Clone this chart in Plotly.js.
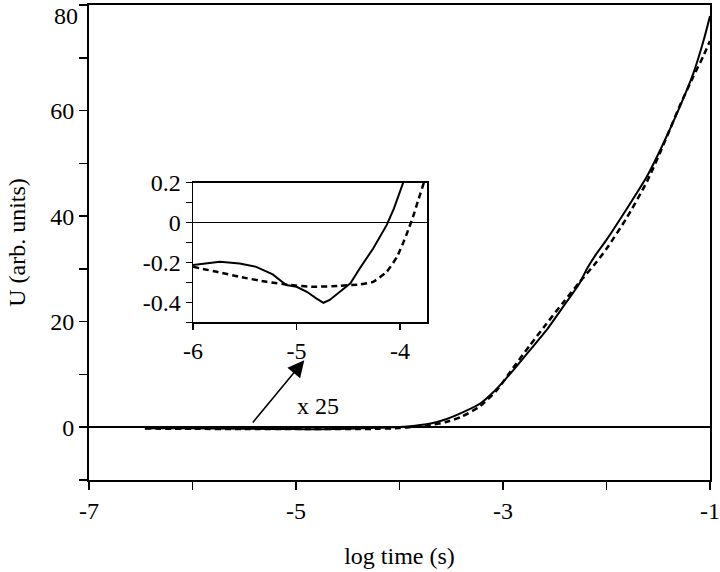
<!DOCTYPE html>
<html>
<head>
<meta charset="utf-8">
<script src="https://cdn.plot.ly/plotly-3.0.1.min.js"></script>
<style>html,body{margin:0;padding:0;background:#fff;}#chart{width:720px;height:572px;}</style>
</head>
<body>
<div id="chart"></div>
<script>
// Main chart data (log time in s, U in arb. units)
const mainSolidX = [-6.46, -6.0, -5.5, -5.0, -4.75, -4.5, -4.2, -4.0, -3.85, -3.7, -3.55, -3.38, -3.22, -3.06, -2.90, -2.74, -2.58, -2.42, -2.26, -2.19, -2.10, -2.0, -1.81, -1.61, -1.45, -1.29, -1.16, -1.06, -1.0];
const mainSolidY = [-0.2, -0.2, -0.3, -0.35, -0.4, -0.3, -0.1, 0.05, 0.3, 0.7, 1.5, 2.9, 4.5, 7.3, 10.8, 14.6, 18.4, 22.8, 27.3, 30.0, 32.8, 35.5, 41.2, 47.5, 53.8, 60.8, 67.1, 73.4, 77.9];
const mainDashX = [-6.46, -6.0, -5.5, -5.0, -4.5, -4.2, -4.0, -3.85, -3.7, -3.55, -3.4, -3.22, -3.06, -2.90, -2.74, -2.58, -2.42, -2.26, -2.10, -2.0, -1.81, -1.61, -1.45, -1.29, -1.16, -1.06, -1.0];
const mainDashY = [-0.25, -0.3, -0.35, -0.35, -0.35, -0.3, -0.15, 0.1, 0.4, 1.0, 2.0, 4.0, 7.0, 11.3, 15.5, 19.6, 23.6, 27.5, 31.2, 33.8, 39.5, 46.5, 53.5, 61.0, 66.5, 70.5, 73.2];

// Inset data (x 25)
const insetSolidX = [-6.0, -5.74, -5.55, -5.39, -5.23, -5.10, -5.0, -4.90, -4.81, -4.74, -4.68, -4.58, -4.48, -4.39, -4.26, -4.13, -4.06, -3.97];
const insetSolidY = [-0.213, -0.197, -0.205, -0.222, -0.26, -0.313, -0.322, -0.347, -0.38, -0.402, -0.388, -0.347, -0.305, -0.23, -0.13, -0.013, 0.07, 0.2];
const insetDashX = [-6.0, -5.77, -5.55, -5.29, -5.06, -4.84, -4.58, -4.39, -4.26, -4.13, -4.03, -3.94, -3.87, -3.82, -3.77];
const insetDashY = [-0.222, -0.247, -0.272, -0.297, -0.313, -0.322, -0.317, -0.31, -0.297, -0.247, -0.172, -0.063, 0.037, 0.12, 0.2];

// Tick labels
const mainXTicks = [-7, -5, -3, -1];
const mainYTicks = [0, 20, 40, 60, 80];
const mainYTopLabel = '80';
const insetXTicks = [-6, -5, -4];
const insetYTicks = [-0.4, -0.2, 0, 0.2];
const insetYTickText = ['-0.4', '-0.2', '0', '0.2'];

const FONT = '"Liberation Serif", "Times New Roman", serif';
const BLACK = '#000';

const traces = [
  {x: mainSolidX, y: mainSolidY, type: 'scatter', mode: 'lines', xaxis: 'x', yaxis: 'y',
   line: {color: BLACK, width: 2, shape: 'spline', smoothing: 0.6}, hoverinfo: 'skip'},
  {x: mainDashX, y: mainDashY, type: 'scatter', mode: 'lines', xaxis: 'x', yaxis: 'y',
   line: {color: BLACK, width: 2.5, dash: '6px,4px', shape: 'spline', smoothing: 0.6}, hoverinfo: 'skip'},
  {x: insetSolidX, y: insetSolidY, type: 'scatter', mode: 'lines', xaxis: 'x2', yaxis: 'y2',
   line: {color: BLACK, width: 2}, hoverinfo: 'skip'},
  {x: insetDashX, y: insetDashY, type: 'scatter', mode: 'lines', xaxis: 'x2', yaxis: 'y2',
   line: {color: BLACK, width: 2.5, dash: '6px,4px', shape: 'spline', smoothing: 0.5}, hoverinfo: 'skip'}
];

const axisCommon = {
  showgrid: false, linecolor: BLACK, linewidth: 2, ticks: 'outside', tickcolor: BLACK,
  tickwidth: 1.5, ticklen: 8, tickfont: {family: FONT, size: 24, color: BLACK},
  zeroline: false, mirror: true
};

const layout = {
  width: 720, height: 572,
  margin: {l: 89, r: 10, t: 5, b: 92},
  paper_bgcolor: '#fff', plot_bgcolor: '#fff',
  showlegend: false,
  font: {family: FONT, size: 24, color: BLACK},
  xaxis: Object.assign({}, axisCommon, {
    range: [-7, -1], tickmode: 'array', tickvals: mainXTicks, ticktext: mainXTicks.map(String),
    minor: {dtick: 1, ticks: 'outside', ticklen: 8, tickcolor: BLACK, tickwidth: 1.5},
    title: {text: 'log time (s)', font: {family: FONT, size: 24, color: BLACK}, standoff: 24},
    anchor: 'y', domain: [0, 1]
  }),
  yaxis: Object.assign({}, axisCommon, {
    range: [-10, 80], tickmode: 'array', tickvals: mainYTicks,
    ticktext: mainYTicks.map(v => (String(v) === mainYTopLabel ? '' : String(v))),
    minor: {dtick: 10, ticks: 'outside', ticklen: 8, tickcolor: BLACK, tickwidth: 1.5},
    zeroline: true, zerolinecolor: BLACK, zerolinewidth: 2,
    title: {text: 'U (arb. units)', font: {family: FONT, size: 24, color: BLACK}, standoff: 18},
    anchor: 'x', domain: [0, 1]
  }),
  xaxis2: Object.assign({}, axisCommon, {
    range: [-6, -3.74], tickmode: 'array', tickvals: insetXTicks, ticktext: insetXTicks.map(String),
    ticklen: 6, linewidth: 1.5,
    anchor: 'y2', domain: [0.1675, 0.5443]
  }),
  yaxis2: Object.assign({}, axisCommon, {
    range: [-0.5, 0.2], tickmode: 'array', tickvals: insetYTicks, ticktext: insetYTickText,
    ticklen: 6, linewidth: 1.5,
    minor: {dtick: 0.1, tick0: 0, ticks: 'outside', ticklen: 6, tickcolor: BLACK, tickwidth: 1.5},
    zeroline: true, zerolinecolor: BLACK, zerolinewidth: 1.5,
    anchor: 'x2', domain: [0.332, 0.626]
  }),
  annotations: [
    {x: -4.92, y: 12.7, xref: 'x', yref: 'y', ax: -5.43, ay: 0.6, axref: 'x', ayref: 'y',
     showarrow: true, arrowhead: 2, arrowsize: 2.2, arrowwidth: 1.5, arrowcolor: BLACK, text: ''},
    {x: -4.79, y: 4.0, xref: 'x', yref: 'y', text: 'x 25', showarrow: false,
     font: {family: FONT, size: 24, color: BLACK}},
    {x: 0, y: 80, xref: 'paper', yref: 'y', text: mainYTopLabel, showarrow: false,
     xanchor: 'right', yanchor: 'top', xshift: -10, yshift: 3, borderpad: 0,
     font: {family: FONT, size: 24, color: BLACK}}
  ]
};

Plotly.newPlot('chart', traces, layout, {staticPlot: true, displayModeBar: false});
</script>
</body>
</html>
